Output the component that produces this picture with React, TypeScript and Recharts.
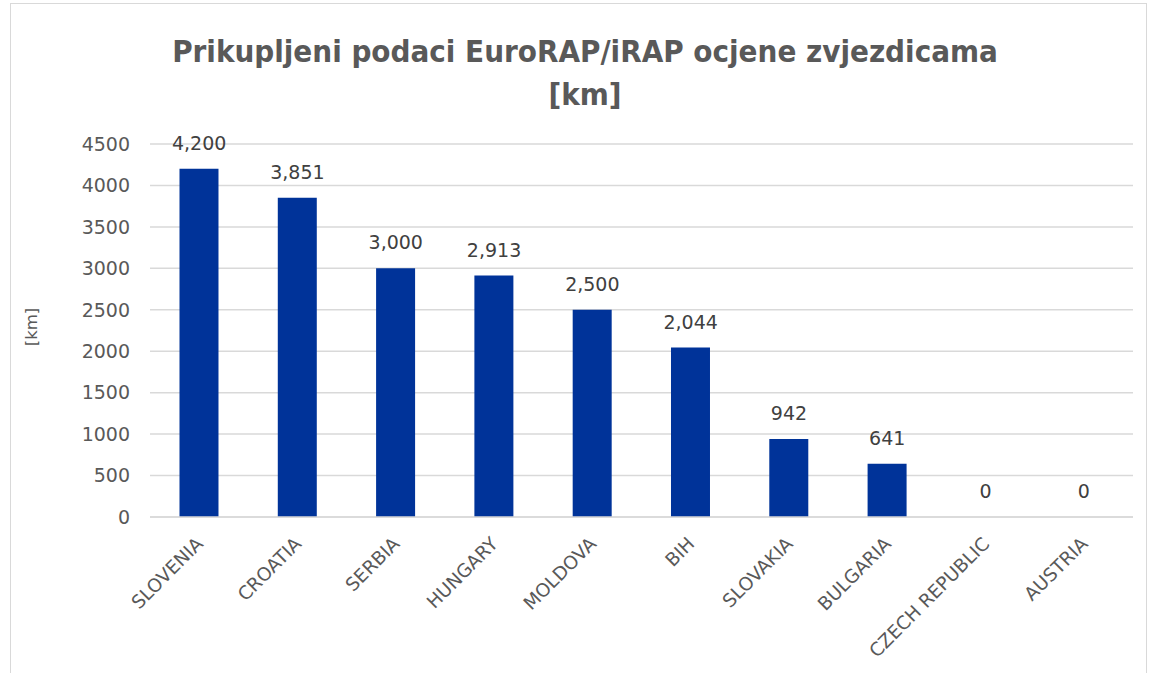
import { Bar, CartesianGrid, ComposedChart, LabelList, Line, XAxis, YAxis } from 'recharts'

const countries = [
  'SLOVENIA',
  'CROATIA',
  'SERBIA',
  'HUNGARY',
  'MOLDOVA',
  'BIH',
  'SLOVAKIA',
  'BULGARIA',
  'CZECH REPUBLIC',
  'AUSTRIA',
]
const kilometres = [4200, 3851, 3000, 2913, 2500, 2044, 942, 641, 0, 0]
const yTicks = [0, 500, 1000, 1500, 2000, 2500, 3000, 3500, 4000, 4500]

const data = countries.map((name, i) => ({ name, km: kilometres[i] }))

const FONT = '"DejaVu Sans", Lato, sans-serif'
const TITLE_FONT = '"DejaVu Sans Condensed", sans-serif'
const GRAY = '#595959'

function CountryTick(props: any) {
  const { x, y, payload } = props
  const ax = x + 5
  const ay = y + 20
  return (
    <text
      x={ax}
      y={ay}
      textAnchor="end"
      fill={GRAY}
      fontSize={18.5}
      fontFamily={FONT}
      transform={`rotate(-45 ${ax} ${ay})`}
    >
      {payload.value}
    </text>
  )
}

export default function App() {
  return (
    <div style={{ position: 'absolute', left: 0, top: 0, width: 1151, height: 673, background: '#fff' }}>
      <div
        style={{
          position: 'absolute',
          left: 10,
          top: 3,
          width: 1135,
          height: 680,
          border: '1px solid #d9d9d9',
        }}
      />
      <div
        style={{
          position: 'absolute',
          left: 0,
          top: 30,
          width: 1170,
          textAlign: 'center',
          fontFamily: TITLE_FONT,
          fontWeight: 700,
          fontSize: 31,
          lineHeight: '43px',
          color: GRAY,
        }}
      >
        Prikupljeni podaci EuroRAP/iRAP ocjene zvjezdicama
        <br />
        [km]
      </div>
      <div
        style={{
          position: 'absolute',
          left: 31,
          top: 327,
          transform: 'translate(-50%, -50%) rotate(-90deg)',
          fontFamily: FONT,
          fontSize: 16.5,
          color: GRAY,
          whiteSpace: 'nowrap',
        }}
      >
        [km]
      </div>
      <div style={{ position: 'absolute', left: 0, top: 0 }}>
        <ComposedChart
          width={1151}
          height={673}
          data={data}
          margin={{ top: 144, right: 18, bottom: 0, left: 0 }}
          barCategoryGap="30%"
        >
          <CartesianGrid vertical={false} stroke="#d9d9d9" strokeWidth={1.5} />
          <XAxis
            dataKey="name"
            interval={0}
            tickLine={false}
            axisLine={{ stroke: '#d9d9d9', strokeWidth: 1.5 }}
            tick={<CountryTick />}
            height={156}
          />
          <YAxis
            domain={[0, 4500]}
            ticks={yTicks}
            interval={0}
            width={150}
            tickLine={false}
            axisLine={false}
            tickMargin={14}
            tick={{ fill: GRAY, fontSize: 19, fontFamily: FONT }}
          />
          <Bar dataKey="km" fill="#003399" isAnimationActive={false} />
          <Line
            dataKey="km"
            stroke="none"
            dot={false}
            activeDot={false}
            legendType="none"
            isAnimationActive={false}
          >
            <LabelList
              dataKey="km"
              position="top"
              offset={19}
              fill="#404040"
              fontSize={19}
              fontFamily={FONT}
              formatter={(v: any) => Number(v).toLocaleString('en-US')}
            />
          </Line>
        </ComposedChart>
      </div>
    </div>
  )
}
